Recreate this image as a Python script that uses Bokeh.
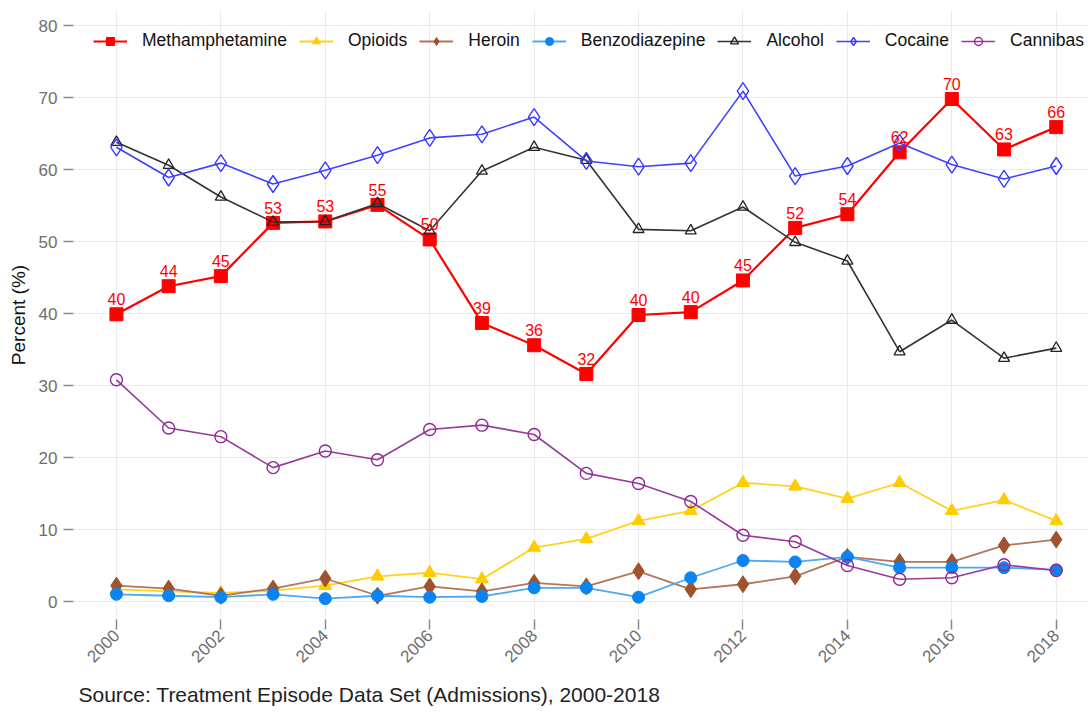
from math import pi
from bokeh.plotting import figure
from bokeh.models import (ColumnDataSource, LabelSet, Legend, LegendItem, Title,
                          FixedTicker, Range1d)
from bokeh.core.properties import value
from bokeh.embed import file_html
from bokeh.resources import INLINE

years = list(range(2000, 2019))
methamphetamine = [39.9, 43.8, 45.2, 52.6, 52.8, 55.1, 50.3, 38.7, 35.6, 31.6, 39.8, 40.2,
                   44.6, 51.9, 53.8, 62.4, 69.8, 62.8, 65.9]
opioids = [1.7, 1.4, 1.2, 1.5, 2.2, 3.5, 4.0, 3.1, 7.5, 8.7, 11.2, 12.6, 16.5, 16.0, 14.3,
           16.5, 12.6, 14.1, 11.2]
heroin = [2.2, 1.8, 0.8, 1.8, 3.2, 0.8, 2.1, 1.4, 2.6, 2.1, 4.2, 1.7, 2.4, 3.5, 6.2, 5.5,
          5.5, 7.8, 8.6]
benzodiazepine = [1.0, 0.8, 0.6, 1.0, 0.4, 0.8, 0.6, 0.7, 1.9, 1.9, 0.6, 3.3, 5.7, 5.5, 6.2,
                  4.7, 4.7, 4.7, 4.4]
alcohol = [63.8, 60.6, 56.2, 52.7, 52.8, 55.3, 51.5, 59.8, 63.1, 61.3, 51.7, 51.5, 54.8, 49.9,
           47.3, 34.7, 39.1, 33.8, 35.2]
cocaine = [63.1, 58.9, 60.9, 58.0, 59.9, 62.0, 64.4, 64.9, 67.3, 61.2, 60.4, 60.9, 70.9, 59.1,
           60.5, 63.7, 60.7, 58.7, 60.5]
cannabis = [30.8, 24.1, 22.9, 18.6, 20.9, 19.7, 23.9, 24.5, 23.2, 17.8, 16.4, 13.9, 9.2, 8.3,
            5.0, 3.1, 3.3, 5.1, 4.3]

y_ticks = [0, 10, 20, 30, 40, 50, 60, 70, 80]
x_ticks = [2000, 2002, 2004, 2006, 2008, 2010, 2012, 2014, 2016, 2018]
source_note = "Source: Treatment Episode Data Set (Admissions), 2000-2018"

FONT = "Liberation Sans"

p = figure(width=1088, height=715, output_backend="svg", toolbar_location=None,
           x_range=Range1d(1999.1775, 2018.618), y_range=Range1d(-2.497, 82.1),
           min_border_left=73, min_border_right=0, min_border_top=10, min_border_bottom=95)
p.outline_line_color = None
p.background_fill_color = "white"

series = [
    ("Methamphetamine", methamphetamine, dict(line_color="#FF0000", line_width=2.2),
     dict(marker="square", size=13, fill_color="#FF0000", line_color="#FF0000")),
    ("Opioids", opioids, dict(line_color="#FFD21F", line_width=1.8),
     dict(marker="triangle", size=13, fill_color="#FFCC00", line_color="#FFCC00")),
    ("Heroin", heroin, dict(line_color="#B0775A", line_width=1.8),
     dict(marker="diamond", size=17, fill_color="#A0522D", line_color="#A0522D")),
    ("Benzodiazepine", benzodiazepine, dict(line_color="#4DA8F5", line_width=1.8),
     dict(marker="circle", size=12, fill_color="#0A84F0", line_color="#0A84F0")),
    ("Alcohol", alcohol, dict(line_color="#333333", line_width=1.6),
     dict(marker="triangle", size=11, fill_color=None, line_color="#222222", line_width=1.3)),
    ("Cocaine", cocaine, dict(line_color="#4040FF", line_width=1.6),
     dict(marker="diamond", size=17, fill_color=None, line_color="#3A3AFF", line_width=1.4)),
    ("Cannibas", cannabis, dict(line_color="#973A9B", line_width=1.6),
     dict(marker="circle", size=12, fill_color=None, line_color="#8E2A92", line_width=1.4)),
]

items = []
for name, vals, lkw, mkw in series:
    src = ColumnDataSource(dict(x=years, y=vals))
    r1 = p.line("x", "y", source=src, **lkw)
    r2 = p.scatter("x", "y", source=src, **mkw)
    items.append(LegendItem(label=name, renderers=[r1, r2]))

lab_src = ColumnDataSource(dict(x=years, y=methamphetamine,
                                t=[str(int(round(v))) for v in methamphetamine]))
labels = LabelSet(x="x", y="y", text="t", source=lab_src, y_offset=9,
                  text_align="center", text_baseline="bottom",
                  text_font=value(FONT), text_font_size="16px", text_color="#FF0000")
p.add_layout(labels)

legend = Legend(items=items, orientation="horizontal", location=(20, 568),
                background_fill_alpha=0, border_line_color=None,
                label_text_font=FONT, label_text_font_size="17.5px", label_text_color="#111111",
                glyph_width=34, glyph_height=20, label_standoff=15, spacing=12,
                padding=10, margin=0)
p.add_layout(legend)

# grids
p.xgrid.ticker = FixedTicker(ticks=x_ticks)
p.ygrid.ticker = FixedTicker(ticks=y_ticks)
p.ygrid.bounds = (0, 70)
for g in (p.xgrid[0], p.ygrid[0]):
    g.grid_line_color = "#EBEBEB"
    g.grid_line_width = 1

# axes
p.xaxis.ticker = FixedTicker(ticks=x_ticks)
p.yaxis.ticker = FixedTicker(ticks=y_ticks)
p.xaxis.major_label_orientation = pi / 4
for ax in (p.xaxis[0], p.yaxis[0]):
    ax.axis_line_color = None
    ax.major_tick_line_color = "#8A8A8A"
    ax.major_tick_line_width = 1.5
    ax.major_tick_out = 10
    ax.major_tick_in = 0
    ax.minor_tick_line_color = None
    ax.major_label_text_font = FONT
    ax.major_label_text_font_size = "17px"
    ax.major_label_text_color = "#6E6E6E"
p.yaxis.major_label_standoff = 6
p.xaxis.major_label_standoff = 3
p.yaxis.axis_label = "Percent (%)"
p.yaxis.axis_label_text_font = FONT
p.yaxis.axis_label_text_font_size = "19px"
p.yaxis.axis_label_text_font_style = "normal"
p.yaxis.axis_label_text_color = "#111111"
p.yaxis.axis_label_standoff = 7

p.add_layout(Title(text=source_note, align="left", offset=5, text_font=FONT,
                   text_font_size="21px", text_font_style="normal",
                   text_color="#222222", standoff=20), "below")

open("out.html", "w").write(file_html(p, INLINE))
